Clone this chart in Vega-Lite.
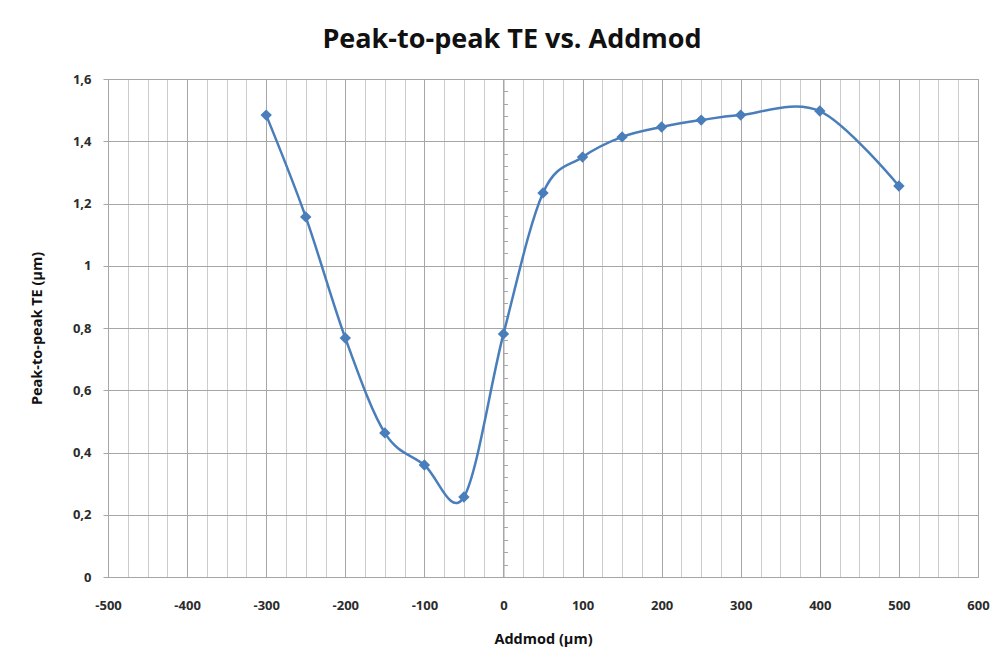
{
  "$schema": "https://vega.github.io/schema/vega-lite/v6.json",
  "width": 870,
  "height": 498,
  "autosize": "none",
  "padding": {"left": 108, "top": 79, "right": 29, "bottom": 94},
  "background": "white",
  "title": {
    "text": "Peak-to-peak TE vs. Addmod",
    "font": "Open Sans",
    "fontSize": 27,
    "fontWeight": "bold",
    "color": "#111111",
    "anchor": "middle",
    "dx": -31,
    "offset": 19
  },
  "config": {
    "view": {"stroke": "#a6a6a6", "strokeWidth": 1},
    "axis": {
      "labelFont": "Open Sans",
      "labelFontWeight": "bold",
      "labelFontSize": 13,
      "labelColor": "#2b2b2b",
      "titleFont": "Open Sans",
      "titleFontWeight": "bold",
      "titleFontSize": 14.5,
      "titleColor": "#111111",
      "domainColor": "#a6a6a6"
    }
  },
  "data": {
    "values": [
      {"addmod": -300, "te": 1.484},
      {"addmod": -250, "te": 1.157},
      {"addmod": -200, "te": 0.768},
      {"addmod": -150, "te": 0.463},
      {"addmod": -100, "te": 0.36},
      {"addmod": -50, "te": 0.257},
      {"addmod": 0, "te": 0.781},
      {"addmod": 50, "te": 1.234},
      {"addmod": 100, "te": 1.349},
      {"addmod": 150, "te": 1.414},
      {"addmod": 200, "te": 1.446},
      {"addmod": 250, "te": 1.468},
      {"addmod": 300, "te": 1.484},
      {"addmod": 400, "te": 1.497},
      {"addmod": 500, "te": 1.256}
    ]
  },
  "encoding": {
    "x": {
      "field": "addmod",
      "type": "quantitative",
      "scale": {"domain": [-500, 600], "nice": false, "zero": false},
      "axis": {
        "title": "Addmod (µm)",
        "titlePadding": 20,
        "values": [-500,-475,-450,-425,-400,-375,-350,-325,-300,-275,-250,-225,-200,-175,-150,-125,-100,-75,-50,-25,0,25,50,75,100,125,150,175,200,225,250,275,300,325,350,375,400,425,450,475,500,525,550,575,600],
        "labelExpr": "datum.value % 100 === 0 ? replace(datum.label, '−', '-') : ''",
        "format": "d",
        "tickSize": 0,
        "labelPadding": 22,
        "labelFlush": false,
        "grid": true,
        "gridColor": {"condition": {"test": "datum.value % 100 === 0", "value": "#a6a6a6"}, "value": "#cccccc"},
        "gridWidth": 1
      }
    }
  },
  "layer": [
    {
      "mark": {"type": "line", "interpolate": "cardinal", "color": "#4a7ebb", "strokeWidth": 2.5},
      "encoding": {
        "y": {
          "field": "te",
          "type": "quantitative",
          "scale": {"domain": [0, 1.6], "nice": false},
          "axis": {
            "title": "Peak-to-peak TE (µm)",
            "titlePadding": 28,
            "values": [0, 0.2, 0.4, 0.6, 0.8, 1, 1.2, 1.4, 1.6],
            "labelExpr": "replace(format(datum.value, ''), '.', ',')",
            "tickSize": 5,
            "tickColor": "#a6a6a6",
            "labelPadding": 12,
            "grid": true,
            "gridColor": "#a6a6a6",
            "gridWidth": 1
          }
        }
      }
    },
    {
      "mark": {"type": "point", "shape": "diamond", "filled": true, "color": "#4a7ebb", "size": 130, "opacity": 1},
      "encoding": {
        "y": {
          "field": "te",
          "type": "quantitative",
          "axis": {
            "orient": "left",
            "offset": -395.5,
            "title": null,
            "labels": false,
            "grid": false,
            "tickSize": -4,
            "tickColor": "#a6a6a6",
            "values": [0,0.04,0.08,0.12,0.16,0.2,0.24,0.28,0.32,0.36,0.4,0.44,0.48,0.52,0.56,0.6,0.64,0.68,0.72,0.76,0.8,0.84,0.88,0.92,0.96,1,1.04,1.08,1.12,1.16,1.2,1.24,1.28,1.32,1.36,1.4,1.44,1.48,1.52,1.56,1.6]
          }
        }
      }
    }
  ],
  "resolve": {"axis": {"y": "independent"}}
}
